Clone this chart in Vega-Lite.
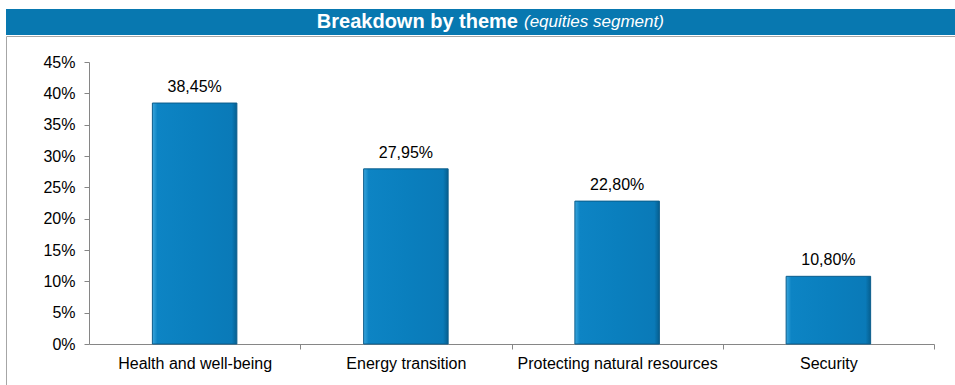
{
  "$schema": "https://vega.github.io/schema/vega-lite/v6.json",
  "padding": {"left": 5, "top": 9, "right": 0, "bottom": 0},
  "background": "white",
  "spacing": 0,
  "config": {
    "locale": {"number": {"decimal": ",", "thousands": ".", "grouping": [3], "currency": ["", " €"]}},
    "font": "Liberation Sans"
  },
  "vconcat": [
    {
      "width": 950,
      "height": 26,
      "view": {"stroke": null},
      "data": {"values": [{"title": "Breakdown by theme", "sub": "(equities segment)"}]},
      "layer": [
        {"mark": {"type": "rect", "fill": "#0878b0"}, "encoding": {}},
        {"mark": {"type": "text", "align": "right", "baseline": "middle", "dx": 37, "fontSize": 20, "fontWeight": "bold", "fill": "white"}, "encoding": {"text": {"field": "title"}}},
        {"mark": {"type": "text", "align": "left", "baseline": "middle", "dx": 43, "fontSize": 17, "fontStyle": "italic", "fill": "white"}, "encoding": {"text": {"field": "sub"}}}
      ]
    },
    {
      "width": 950,
      "height": 360,
      "view": {"stroke": "#a6a6a6"},
      "data": {"values": [
        {"theme": "Health and well-being", "share": 0.3845},
        {"theme": "Energy transition", "share": 0.2795},
        {"theme": "Protecting natural resources", "share": 0.228},
        {"theme": "Security", "share": 0.108}
      ]},
      "encoding": {
        "x": {
          "field": "theme", "type": "nominal", "sort": null,
          "scale": {"range": [83, 928], "paddingInner": 0.6, "paddingOuter": 0.3},
          "axis": {"title": null, "labelAngle": 0, "labelLimit": 0, "offset": -52, "domainColor": "#868686", "tickColor": "#868686", "tickSize": 5, "bandPosition": 1, "tickOffset": 63.4, "labelOffset": -63.4, "labelFontSize": 16, "labelColor": "black", "labelPadding": 6, "grid": false}
        },
        "y": {
          "field": "share", "type": "quantitative",
          "scale": {"domain": [0, 0.45], "range": [308, 26], "nice": false},
          "axis": {"title": null, "format": ".0%", "values": [0, 0.05, 0.1, 0.15, 0.2, 0.25, 0.3, 0.35, 0.4, 0.45], "offset": -83, "domainColor": "#868686", "tickColor": "#868686", "tickSize": 5, "labelFontSize": 16, "labelColor": "black", "labelPadding": 9, "grid": false}
        }
      },
      "layer": [
        {
          "mark": {
            "type": "bar",
            "fill": {"gradient": "linear", "x1": 0, "x2": 1, "y1": 0, "y2": 0, "stops": [
              {"offset": 0, "color": "#3aa6dc"},
              {"offset": 0.06, "color": "#0d84c4"},
              {"offset": 0.5, "color": "#0a7fbe"},
              {"offset": 0.94, "color": "#0a7ab8"},
              {"offset": 1, "color": "#065f90"}
            ]},
            "stroke": "#0b5d8c",
            "strokeWidth": 1
          }
        },
        {
          "mark": {"type": "text", "baseline": "bottom", "dy": -8, "fontSize": 16, "fill": "black"},
          "encoding": {"text": {"field": "share", "type": "quantitative", "format": ".2%"}}
        }
      ]
    }
  ]
}
